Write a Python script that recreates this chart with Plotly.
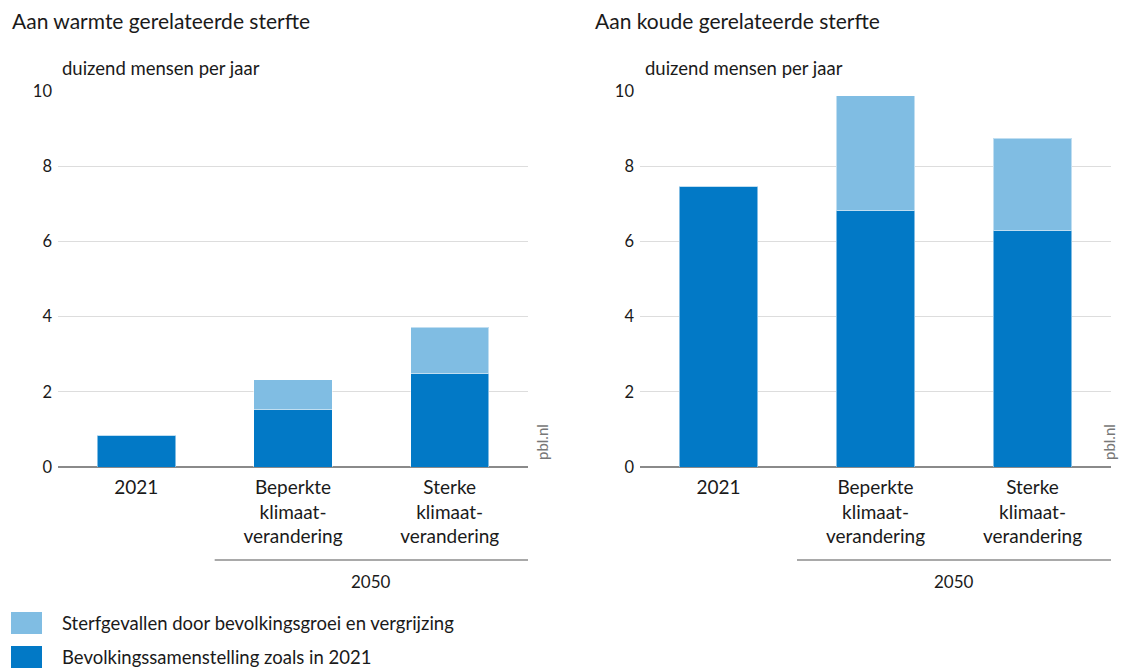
import plotly.graph_objects as go
from plotly.subplots import make_subplots

# ── Data ─────────────────────────────────────────────────────
categories = ['2021', 'Beperkte<br>klimaat-<br>verandering', 'Sterke<br>klimaat-<br>verandering']
cat_keys = ['c2021', 'beperkt', 'sterk']

warmte_basis = [0.85, 1.52, 2.50]
warmte_groei = [0.0, 0.80, 1.22]

koude_basis = [7.47, 6.82, 6.30]
koude_groei = [0.0, 3.05, 2.44]

series_names = ['Bevolkingssamenstelling zoals in 2021',
                'Sterfgevallen door bevolkingsgroei en vergrijzing']
y_ticks = [0, 2, 4, 6, 8, 10]

panel_titles = ['Aan warmte gerelateerde sterfte', 'Aan koude gerelateerde sterfte']
unit_label = 'duizend mensen per jaar'
group_label = '2050'

# ── Style ────────────────────────────────────────────────────
DARK = '#0279c6'
LIGHT = '#80bde3'
FONT = 'Lato'
TXT = '#1a1a1a'

# page body adds an 8px margin, so the figure is a bit smaller
OFF = 8
W, H = 1132 - OFF, 668 - OFF


def px(x):
    return (x - OFF) / W


def py(y):
    return 1 - (y - OFF) / H


fig = make_subplots(rows=1, cols=2)

for col, (basis, groei) in enumerate([(warmte_basis, warmte_groei),
                                       (koude_basis, koude_groei)], start=1):
    fig.add_trace(go.Bar(
        x=cat_keys, y=basis, name=series_names[0],
        marker=dict(color=DARK, line=dict(color='rgba(255,255,255,0.5)', width=1)),
        width=0.5, showlegend=False
    ), row=1, col=col)
    fig.add_trace(go.Bar(
        x=cat_keys, y=groei, name=series_names[1],
        marker=dict(color=LIGHT, line=dict(color='rgba(255,255,255,0.5)', width=1)),
        width=0.5, showlegend=False
    ), row=1, col=col)

axis_common = dict(
    showgrid=True, gridcolor='#dddddd', gridwidth=1.3,
    zeroline=True, zerolinecolor='#8a8a8a', zerolinewidth=1.5,
    range=[0, 10], tickvals=y_ticks, ticks='', automargin=False,
    ticklabelstandoff=5,
    tickfont=dict(size=16.5, color=TXT, family=FONT),
    domain=[py(467), py(91)], fixedrange=True,
)
xaxis_common = dict(
    tickvals=cat_keys, ticktext=categories, showgrid=False, automargin=False,
    showline=False, ticks='', ticklabelstandoff=7,
    tickfont=dict(size=19, color=TXT, family=FONT),
    range=[-0.5, 2.5],
)

fig.update_layout(
    width=W, height=H,
    margin=dict(l=0, r=0, t=0, b=0),
    barmode='stack',
    showlegend=False,
    plot_bgcolor='white', paper_bgcolor='white',
    font=dict(family=FONT, color=TXT),
    xaxis=dict(domain=[px(58), px(528)], **xaxis_common),
    xaxis2=dict(domain=[px(640), px(1111)], **xaxis_common),
    yaxis=axis_common,
    yaxis2=axis_common,
)

# ── Titles, unit labels, 2050 grouping, source ──────────────
for i, (xref, x0, src_x) in enumerate([('x', 10, 542), ('x2', 593, 1120)]):
    fig.add_annotation(text=panel_titles[i], xref='paper', yref='paper',
                       x=px(x0), y=py(20), xanchor='left', yanchor='middle',
                       showarrow=False, font=dict(size=21, color=TXT))
    fig.add_annotation(text=unit_label, xref='paper', yref='paper',
                       x=px(x0 + 50), y=py(68), xanchor='left', yanchor='middle',
                       showarrow=False, font=dict(size=18.5, color=TXT))
    fig.add_shape(type='line', xref=xref, yref='paper',
                  x0=0.5, x1=2.5, y0=py(560), y1=py(560),
                  line=dict(color='#555555', width=1.2))
    fig.add_annotation(text=group_label, xref=xref, yref='paper',
                       x=1.5, y=py(581), yanchor='middle',
                       showarrow=False, font=dict(size=17, color=TXT))
    fig.add_annotation(text='pbl.nl', xref='paper', yref='paper',
                       x=px(src_x), y=py(442),
                       textangle=-90, showarrow=False,
                       font=dict(size=15, color='#777777'))

# ── Legend (large swatches like the original) ───────────────
legend_items = [(series_names[1], LIGHT, 623), (series_names[0], DARK, 657)]
for name, color, yc in legend_items:
    fig.add_shape(type='rect', xref='paper', yref='paper',
                  x0=px(11), x1=px(42), y0=py(yc + 11), y1=py(yc - 11),
                  fillcolor=color, line=dict(width=0))
    fig.add_annotation(text=name, xref='paper', yref='paper',
                       x=px(60), y=py(yc), xanchor='left', yanchor='middle',
                       showarrow=False, font=dict(size=18.5, color=TXT))

fig.write_html("out.html")
